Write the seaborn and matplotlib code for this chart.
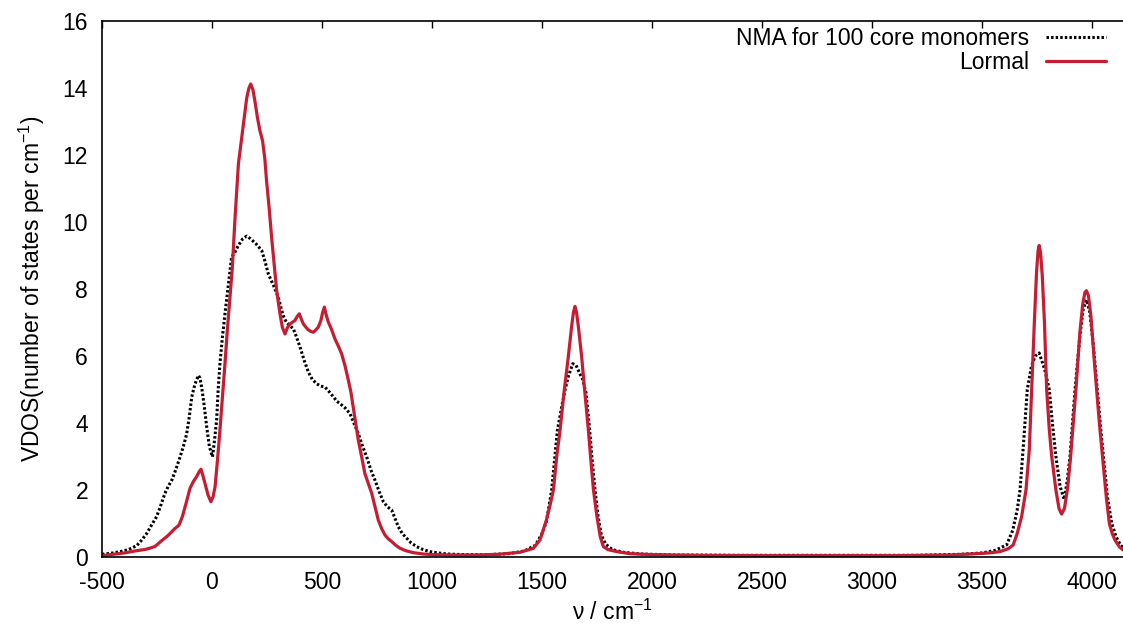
import matplotlib
matplotlib.use("Agg")
import matplotlib.pyplot as plt
import seaborn as sns
import pandas as pd

# ---------------- data ----------------
nma_x = [-500, -450, -418, -380, -342, -320, -297, -275, -252, -235, -214, -200, -183, -165,
         -145, -130, -115, -103, -92, -78, -62, -55, -47, -35, -24, -12, 2, 10, 21, 28, 36,
         48, 59, 74, 89, 104, 120, 140, 158, 175, 200, 226, 242, 256, 280, 301, 315, 327,
         339, 355, 370, 385, 400, 420, 438, 456, 476, 495, 514, 533, 552, 567, 582, 605,
         627, 645, 665, 685, 703, 722, 741, 760, 779, 797, 817, 832, 847, 865, 885, 905,
         930, 960, 991, 1030, 1067, 1150, 1250, 1350, 1420, 1470, 1500, 1520, 1544, 1557,
         1570, 1590, 1605, 1620, 1640, 1655, 1670, 1685, 1700, 1715, 1728, 1741, 1755, 1770,
         1790, 1820, 1870, 1950, 2100, 2400, 2800, 3200, 3400, 3500, 3560, 3612, 3640, 3660,
         3673, 3690, 3706, 3725, 3742, 3760, 3785, 3806, 3820, 3836, 3855, 3874, 3888, 3900,
         3923, 3945, 3960, 3975, 3990, 4005, 4024, 4040, 4055, 4070, 4090, 4110, 4130, 4150]
nma_y = [0.08, 0.12, 0.16, 0.22, 0.34, 0.50, 0.70, 0.95, 1.20, 1.50, 1.90, 2.10, 2.29, 2.60,
         2.99, 3.30, 3.68, 4.20, 4.78, 5.15, 5.42, 5.35, 5.07, 4.50, 3.88, 3.30, 2.99, 3.40,
         4.08, 5.00, 5.77, 6.60, 7.26, 8.10, 8.95, 9.10, 9.30, 9.50, 9.58, 9.50, 9.35, 9.15,
         8.80, 8.45, 8.10, 7.76, 7.40, 7.15, 7.00, 6.90, 6.81, 6.55, 6.27, 5.85, 5.52, 5.30,
         5.17, 5.10, 5.07, 4.93, 4.78, 4.65, 4.58, 4.45, 4.28, 4.00, 3.68, 3.30, 2.99, 2.60,
         2.29, 1.95, 1.65, 1.50, 1.40, 1.15, 0.90, 0.70, 0.56, 0.42, 0.31, 0.22, 0.16, 0.12,
         0.09, 0.07, 0.07, 0.10, 0.18, 0.35, 0.70, 1.05, 2.00, 2.90, 3.78, 4.50, 5.00, 5.40,
         5.77, 5.72, 5.50, 5.30, 4.90, 3.90, 2.90, 2.00, 1.20, 0.65, 0.38, 0.22, 0.14, 0.09,
         0.06, 0.05, 0.05, 0.05, 0.08, 0.12, 0.20, 0.36, 0.80, 1.40, 2.00, 3.50, 5.00, 5.70,
         6.00, 6.09, 5.60, 5.00, 4.00, 3.00, 2.10, 1.72, 2.30, 3.00, 5.00, 6.60, 7.40, 7.68,
         7.30, 6.40, 5.00, 3.80, 2.80, 1.80, 1.00, 0.60, 0.35, 0.24]

lormal_x = [-500, -450, -400, -350, -300, -260, -230, -200, -170, -150, -135, -120, -100, -85,
            -70, -58, -50, -40, -30, -18, -5, 5, 14, 25, 36, 48, 59, 70, 82, 92, 104, 120, 135,
            148, 158, 168, 176, 186, 195, 207, 218, 230, 240, 248, 260, 271, 283, 294, 309,
            320, 332, 343, 355, 368, 377, 387, 397, 406, 415, 428, 438, 450, 461, 472, 483,
            495, 503, 511, 520, 529, 543, 559, 574, 589, 605, 620, 632, 642, 653, 665, 680,
            695, 710, 726, 741, 756, 771, 786, 800, 817, 835, 855, 880, 915, 960, 1006, 1100,
            1200, 1300, 1400, 1461, 1491, 1520, 1535, 1552, 1567, 1582, 1600, 1620, 1635, 1643,
            1650, 1657, 1665, 1680, 1695, 1711, 1722, 1734, 1750, 1765, 1779, 1800, 1840, 1900,
            2000, 2200, 2500, 2800, 3100, 3355, 3450, 3530, 3582, 3620, 3642, 3660, 3680, 3700,
            3715, 3726, 3738, 3748, 3755, 3760, 3766, 3774, 3784, 3794, 3806, 3817, 3836, 3850,
            3862, 3875, 3890, 3903, 3915, 3927, 3945, 3958, 3968, 3975, 3984, 3995, 4010, 4021,
            4035, 4048, 4065, 4079, 4092, 4105, 4125, 4141, 4150]
lormal_y = [0.04, 0.08, 0.12, 0.18, 0.23, 0.31, 0.48, 0.64, 0.84, 0.95, 1.20, 1.55, 2.05, 2.25,
            2.40, 2.55, 2.62, 2.40, 2.15, 1.85, 1.65, 1.80, 2.10, 2.90, 3.78, 4.80, 5.77, 6.80,
            7.76, 8.60, 10.04, 11.73, 12.52, 13.20, 13.71, 14.00, 14.12, 13.95, 13.61, 13.10,
            12.72, 12.42, 11.90, 11.23, 10.40, 9.54, 8.70, 7.95, 7.26, 6.85, 6.66, 6.85, 6.96,
            7.02, 7.06, 7.18, 7.26, 7.10, 6.96, 6.85, 6.78, 6.73, 6.71, 6.78, 6.86, 7.06, 7.30,
            7.46, 7.20, 7.01, 6.80, 6.51, 6.30, 6.07, 5.70, 5.27, 4.90, 4.48, 4.00, 3.49, 3.00,
            2.49, 2.20, 1.90, 1.50, 1.10, 0.85, 0.66, 0.55, 0.46, 0.35, 0.26, 0.19, 0.13, 0.09,
            0.07, 0.06, 0.06, 0.08, 0.14, 0.26, 0.51, 1.10, 1.50, 2.00, 3.00, 3.78, 4.90, 6.00,
            6.90, 7.30, 7.48, 7.30, 6.90, 6.00, 4.90, 3.78, 2.90, 2.00, 1.20, 0.60, 0.31, 0.22,
            0.16, 0.10, 0.07, 0.05, 0.04, 0.04, 0.04, 0.06, 0.09, 0.12, 0.16, 0.25, 0.36, 0.70,
            1.20, 2.00, 3.20, 5.00, 7.00, 8.50, 9.15, 9.30, 9.10, 8.40, 7.00, 5.00, 3.80, 3.00,
            2.00, 1.45, 1.28, 1.45, 2.10, 3.00, 4.00, 5.00, 6.70, 7.55, 7.90, 7.95, 7.80, 7.20,
            5.90, 5.00, 3.90, 3.00, 1.80, 1.00, 0.70, 0.50, 0.30, 0.21, 0.19]

series_names = ["NMA for 100 core monomers", "Lormal"]
x_label = "ν / cm$^{-1}$"
y_label = "VDOS(number of states per cm$^{-1}$)"
x_ticks = [-500, 0, 500, 1000, 1500, 2000, 2500, 3000, 3500, 4000]
y_ticks = [0, 2, 4, 6, 8, 10, 12, 14, 16]

# ---------------- style ----------------
sns.set_theme(style="white")
plt.rcParams["font.family"] = ["Liberation Sans", "DejaVu Sans"]
plt.rcParams["mathtext.fontset"] = "custom"
plt.rcParams["mathtext.rm"] = "Liberation Sans"
plt.rcParams["mathtext.default"] = "regular"
plt.rcParams["text.color"] = "black"
plt.rcParams["axes.labelcolor"] = "black"

FS = 16.5
fig = plt.figure(figsize=(11.23, 6.26), dpi=100)
ax = fig.add_axes([102 / 1123, 69 / 626, 1 - 102 / 1123, 536 / 626])

df_nma = pd.DataFrame({"x": nma_x, "y": nma_y})
df_lor = pd.DataFrame({"x": lormal_x, "y": lormal_y})

sns.lineplot(data=df_nma, x="x", y="y", ax=ax, color="black", lw=2.2,
             linestyle=(0, (0.8, 0.7)), label=series_names[0])
sns.lineplot(data=df_lor, x="x", y="y", ax=ax, color="#c41e35", lw=2.3,
             label=series_names[1])

ax.set_xlim(-500, 4141)
ax.set_ylim(0, 16)
ax.set_xticks(x_ticks)
ax.set_xticklabels([str(t) for t in x_ticks])
ax.set_yticks(y_ticks)
ax.set_yticklabels([str(t) for t in y_ticks])
ax.tick_params(axis="both", direction="in", length=5, width=1, color="black",
               labelsize=FS, labelcolor="black", pad=10, top=True, right=False)
for side in ["left", "bottom", "top"]:
    ax.spines[side].set_color("black")
    ax.spines[side].set_linewidth(1.2)
ax.spines["right"].set_visible(False)

ax.set_xlabel(x_label, fontsize=FS, color="black", labelpad=4)
ax.set_ylabel(y_label, fontsize=FS, color="black", labelpad=11)

leg = ax.legend(loc="upper right", bbox_to_anchor=(1106 / 1123, 1 - 27 / 626),
                bbox_transform=fig.transFigure, frameon=False, markerfirst=False,
                fontsize=FS, handlelength=2.6, handletextpad=0.75, labelspacing=0.05,
                borderaxespad=0, borderpad=0)
for t in leg.get_texts():
    t.set_color("black")

fig.savefig("out.png", dpi=100)
